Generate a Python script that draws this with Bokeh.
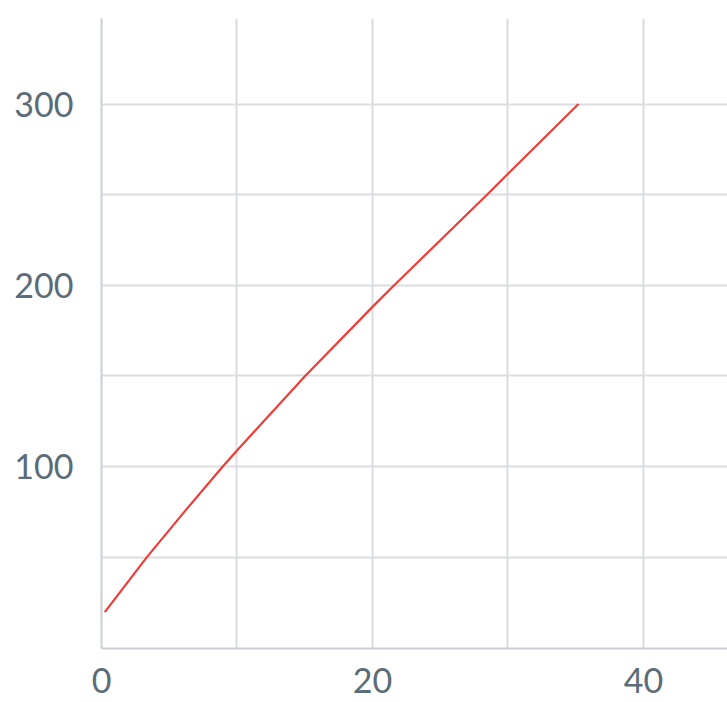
from bokeh.plotting import figure
from bokeh.models import Range1d, FixedTicker
from bokeh.embed import file_html
from bokeh.resources import INLINE

# data
xs = [0.24, 3.35, 6.2, 8.95, 10, 15.03, 20, 21.6, 28.45, 30, 35.2]
ys = [19.7, 50, 75.8, 100, 108.9, 150, 188.1, 200, 250, 261.5, 300]
x_label_ticks = [0, 20, 40]
x_grid_ticks = [0, 10, 20, 30, 40]
y_label_ticks = [100, 200, 300]
y_grid_ticks = [50, 100, 150, 200, 250, 300]

TEXT = "#5b6b78"
GRID = "#d9dde1"
AXIS = "#c9cfd5"

p = figure(width=727, height=702, output_backend="svg", toolbar_location=None,
           x_range=Range1d(0, 46.2), y_range=Range1d(-0.4, 347.2),
           min_border_left=101, min_border_top=18, min_border_bottom=54,
           min_border_right=0)
p.outline_line_color = None
p.background_fill_color = "white"
p.border_fill_color = "white"

p.line(xs, ys, line_color="#ee3c37", line_width=2.2, line_join="round")

for ax, ticks in ((p.xaxis, x_label_ticks), (p.yaxis, y_label_ticks)):
    ax.ticker = FixedTicker(ticks=ticks)
    ax.major_tick_line_color = None
    ax.minor_tick_line_color = None
    ax.axis_line_color = AXIS
    ax.axis_line_width = 2
    ax.major_label_text_font = "Lato"
    ax.major_label_text_font_size = "34px"
    ax.major_label_text_color = TEXT

p.xaxis.major_label_standoff = 13
p.yaxis.major_label_standoff = 22

p.xgrid.ticker = FixedTicker(ticks=x_grid_ticks)
p.ygrid.ticker = FixedTicker(ticks=y_grid_ticks)
p.xgrid.grid_line_color = GRID
p.ygrid.grid_line_color = GRID
p.xgrid.grid_line_width = 2
p.ygrid.grid_line_width = 2

open("out.html", "w").write(file_html(p, INLINE))
